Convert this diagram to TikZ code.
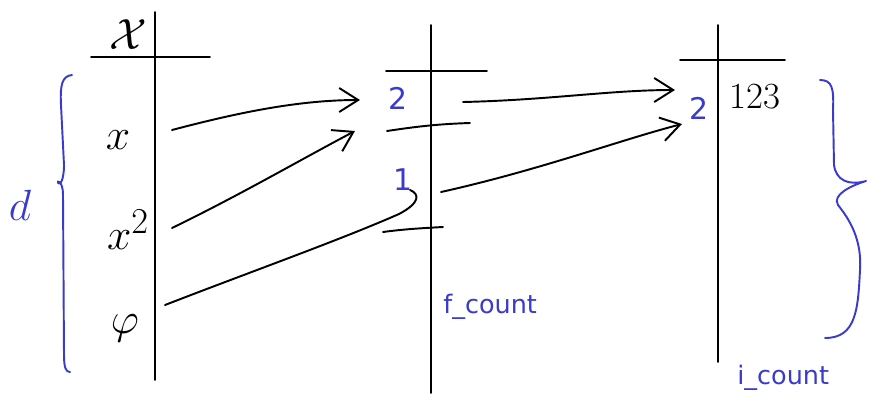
\documentclass[tikz,border=0pt]{standalone}
\usepackage{fontspec}
\newfontfamily\labelfont{DejaVu Sans}
\usepackage{tikz}
\usetikzlibrary{arrows.meta}
\definecolor{inkblue}{RGB}{58,58,204}
\tikzset{
  ink/.style={line width=1.1pt, line cap=round, line join=round},
  blueink/.style={ink, draw=inkblue},
  handarrow/.style={ink, -{Straight Barb[length=3.8mm,width=4.8mm]}},
  rowlabel/.style={font=\fontsize{28}{30}\selectfont},
  bluenum/.style={text=inkblue, font=\labelfont\fontsize{17}{19}\selectfont},
  countlabel/.style={text=inkblue, anchor=base west, inner sep=0pt, font=\labelfont\fontsize{14.5}{16}\selectfont}
}
\begin{document}
\begin{tikzpicture}[x=0.02cm, y=-0.02cm]
\useasboundingbox (0,0) rectangle (869,393);
% tables
\draw[ink] (155,12) -- (155,380);
\draw[ink] (91,57) -- (210,57);
\draw[ink] (431,25) -- (431,393);
\draw[ink] (386,71) -- (487,71);
\draw[ink] (718,25) -- (718,362);
\draw[ink] (680,60) -- (785,60);
\draw[ink] (387,131) .. controls (420,126) and (440,124) .. (470,123);
\draw[ink] (383,232) .. controls (405,229) and (425,228) .. (443,227);
% left column
\node[font=\fontsize{30}{32}\selectfont] (hdrX) at (128,35) {$\mathcal{X}$};
\node[rowlabel] (rowx) at (118,140) {$x$};
\node[rowlabel] (rowxsq) at (128,230) {$x^2$};
\node[rowlabel] (rowphi) at (125,328) {$\varphi$};
% entries
\node[bluenum] (fTwo) at (398,98) {2};
\node[bluenum] (fOne) at (403,180) {1};
\node[bluenum] (iTwo) at (699,108) {2};
\node[font=\fontsize{21}{24}\selectfont] (iNums) at (755,97) {123};
\node[countlabel] (fcount) at (443,313) {f\_count};
\node[countlabel] (icount) at (737,384) {i\_count};
\node[text=inkblue, font=\fontsize{26}{28}\selectfont] (dlabel) at (20,205) {$d$};
% arrows
\coordinate (xOut) at (172,130);
\coordinate (xsqOut) at (172,228);
\coordinate (phiOut) at (165,305);
\coordinate (fTwoIn) at (360,100);
\coordinate (fTwoIn2) at (355,131);
\coordinate (fOneIn) at (399,214);
\coordinate (fTwoOut) at (463,102);
\coordinate (fOneOut) at (441,192);
\coordinate (iTwoIn) at (675,90);
\coordinate (iTwoIn2) at (682,124);
\draw[handarrow] (xOut) .. controls (240,112) and (300,100) .. (fTwoIn);
\draw[handarrow] (xsqOut) .. controls (240,195) and (300,160) .. (fTwoIn2);
\draw[ink] (phiOut) .. controls (250,272) and (340,240) .. (fOneIn)
  .. controls (420,203) and (420,194) .. (410,190);
\draw[handarrow] (fTwoOut) .. controls (550,100) and (610,90) .. (iTwoIn);
\draw[handarrow] (fOneOut) .. controls (540,170) and (620,140) .. (iTwoIn2);
% braces
\draw[blueink] (72,75) .. controls (62,76) and (60,85) .. (61,105)
  -- (64,165) .. controls (64,180) and (60,186) .. (58,183)
  .. controls (56,180) and (63,180) .. (63,195)
  -- (64,355) .. controls (64,368) and (66,372) .. (70,372);
\draw[blueink] (820,80) .. controls (832,80) and (834,88) .. (833,110)
  -- (834,165) .. controls (836,180) and (848,186) .. (866,181)
  .. controls (850,186) and (832,195) .. (838,205)
  .. controls (850,220) and (862,240) .. (860,270)
  .. controls (858,310) and (856,338) .. (825,338);
\end{tikzpicture}
\end{document}
